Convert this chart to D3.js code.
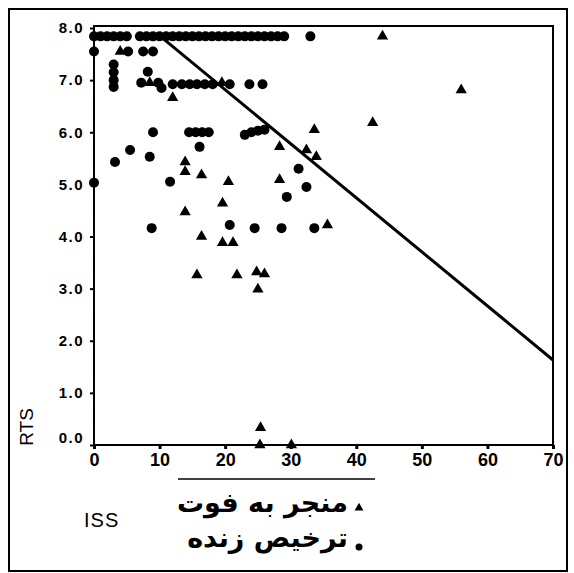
<!DOCTYPE html>
<html lang="fa">
<head>
<meta charset="UTF-8">
<title>RTS vs ISS</title>
<script src="https://d3js.org/d3.v7.min.js"></script>
<style>
  body { margin: 0; background: #fff; }
  svg { display: block; }
</style>
</head>
<body>
<svg width="574" height="573"></svg>
<script>
// died patients (triangles)
var diedISS = [44, 56, 42.5, 33.6, 28.3, 32.4, 33.9, 28.3, 35.6, 12, 19.5, 4, 8.5,
               13.9, 13.9, 16.4, 20.5, 19.6, 13.9, 16.4, 19.6, 21.2, 15.7, 21.8,
               24.8, 26, 25, 25.4, 25.3, 30.1];
var diedRTS = [7.84, 6.81, 6.18, 6.05, 5.72, 5.66, 5.53, 5.09, 4.22, 6.66, 6.95, 7.55, 6.95,
               5.43, 5.24, 5.18, 5.05, 4.64, 4.47, 4.0, 3.88, 3.88, 3.26, 3.26,
               3.32, 3.28, 2.99, 0.33, 0, 0];

// discharged alive (circles)
var aliveISS = [0, 1, 2, 3, 4, 5, 7, 8, 9, 10, 11, 12, 13, 14, 15, 16, 17, 18, 19, 20,
                21, 22, 23, 24, 25, 26, 27, 28, 29, 33,
                0, 5.2, 7.5, 9,
                3, 3, 3, 3,
                8.2, 7.2, 9.8, 10.3,
                12, 13.4, 14.6, 15.7, 16.9, 18.1, 20.7, 23.7, 25.7,
                9, 14.5, 15.5, 16.5, 17.5, 23, 24, 25, 26,
                16.1, 3.2, 5.5, 8.5, 11.6, 0,
                31.2, 32.4, 29.4,
                8.8, 20.7, 24.5, 28.6, 33.6];
var aliveRTS = [7.84, 7.84, 7.84, 7.84, 7.84, 7.84, 7.84, 7.84, 7.84, 7.84, 7.84, 7.84, 7.84, 7.84, 7.84, 7.84, 7.84, 7.84, 7.84, 7.84,
                7.84, 7.84, 7.84, 7.84, 7.84, 7.84, 7.84, 7.84, 7.84, 7.84,
                7.55, 7.55, 7.55, 7.55,
                7.3, 7.15, 7.0, 6.87,
                7.16, 6.95, 6.95, 6.85,
                6.92, 6.92, 6.92, 6.92, 6.92, 6.92, 6.92, 6.92, 6.92,
                6.0, 6.0, 6.0, 6.0, 6.0, 5.95, 6.0, 6.03, 6.05,
                5.72, 5.43, 5.66, 5.53, 5.05, 5.03,
                5.3, 4.95, 4.76,
                4.16, 4.22, 4.16, 4.16, 4.16];

// separating line: RTS = a + b * ISS, capped at the top value
var lineA = 8.89, lineB = -0.1037, lineTop = 7.84;

var xTicks = [0, 10, 20, 30, 40, 50, 60, 70];
var yTicks = [0, 1, 2, 3, 4, 5, 6, 7, 8];

var svg = d3.select("svg");
var x = d3.scaleLinear().domain([0, 70]).range([94, 553]);
var y = d3.scaleLinear().domain([0, 8]).range([445, 28]);

// outer border
svg.append("rect")
    .attr("x", 9).attr("y", 9).attr("width", 558).attr("height", 562)
    .attr("fill", "none").attr("stroke", "#000").attr("stroke-width", 2);

// y axis
var yAxis = svg.append("g")
    .attr("transform", "translate(" + x(0) + ",0)")
    .call(d3.axisLeft(y).tickValues(yTicks).tickSize(4).tickPadding(6).tickFormat(d3.format(".1f")));
yAxis.select(".domain").remove();
yAxis.selectAll("line").attr("stroke-width", 2);
yAxis.selectAll("text")
    .style("font-family", "Liberation Sans, Arial, sans-serif")
    .style("font-weight", "bold").style("font-size", "15px").style("letter-spacing", "1.5px")
    .attr("dy", function(d) { return d === 0 ? "-0.2em" : "0.32em"; });

// x axis
var xAxis = svg.append("g")
    .attr("transform", "translate(0," + y(0) + ")")
    .call(d3.axisBottom(x).tickValues(xTicks).tickSize(4).tickPadding(4));
xAxis.select(".domain").remove();
xAxis.selectAll("line").attr("stroke-width", 3);
xAxis.selectAll("text")
    .style("font-family", "Liberation Sans, Arial, sans-serif")
    .style("font-weight", "bold").style("font-size", "18px");

// plot frame
svg.append("rect")
    .attr("x", x(0)).attr("y", 26).attr("width", x(70) - x(0)).attr("height", y(0) - 26)
    .attr("fill", "none").attr("stroke", "#000").attr("stroke-width", 2);

// separating line
var x0 = (lineTop - lineA) / lineB;
svg.append("line")
    .attr("x1", x(x0)).attr("y1", y(lineTop))
    .attr("x2", x(70)).attr("y2", y(lineA + lineB * 70))
    .attr("stroke", "#000").attr("stroke-width", 3);

var tri = d3.symbol().type(d3.symbolTriangle).size(55);

svg.append("g").selectAll("circle")
    .data(d3.range(aliveISS.length))
    .join("circle")
    .attr("cx", function(i) { return x(aliveISS[i]); })
    .attr("cy", function(i) { return y(aliveRTS[i]); })
    .attr("r", 5)
    .attr("fill", "#000");

svg.append("g").selectAll("path")
    .data(d3.range(diedISS.length))
    .join("path")
    .attr("d", tri)
    .attr("transform", function(i) { return "translate(" + x(diedISS[i]) + "," + y(diedRTS[i]) + ")"; })
    .attr("fill", "#000");

// axis titles
svg.append("text")
    .attr("transform", "translate(33,427) rotate(-90)")
    .attr("text-anchor", "middle")
    .style("font-family", "Liberation Sans, Arial, sans-serif")
    .style("font-size", "19px")
    .text("RTS");

svg.append("text")
    .attr("x", 84).attr("y", 527)
    .style("font-family", "Liberation Sans, Arial, sans-serif")
    .style("font-size", "20px").style("letter-spacing", "1px")
    .text("ISS");

// legend
svg.append("line")
    .attr("x1", 178).attr("y1", 479).attr("x2", 375).attr("y2", 479)
    .attr("stroke", "#000").attr("stroke-width", 1.5);

var legend = [
  { label: "منجر به فوت", type: "tri", y: 512 },
  { label: "ترخیص زنده", type: "dot", y: 547 }
];
legend.forEach(function(l) {
    svg.append("text")
        .attr("x", 348).attr("y", l.y)
        .attr("text-anchor", "end")
        .style("font-family", "DejaVu Sans, sans-serif")
        .style("font-weight", "bold")
        .style("font-size", "27px")
        .text(l.label);
    if (l.type === "tri") {
        svg.append("path").attr("d", d3.symbol().type(d3.symbolTriangle).size(35))
            .attr("transform", "translate(359," + (l.y - 4) + ")").attr("fill", "#000");
    } else {
        svg.append("circle").attr("cx", 359).attr("cy", l.y).attr("r", 3.5).attr("fill", "#000");
    }
});
</script>
</body>
</html>
